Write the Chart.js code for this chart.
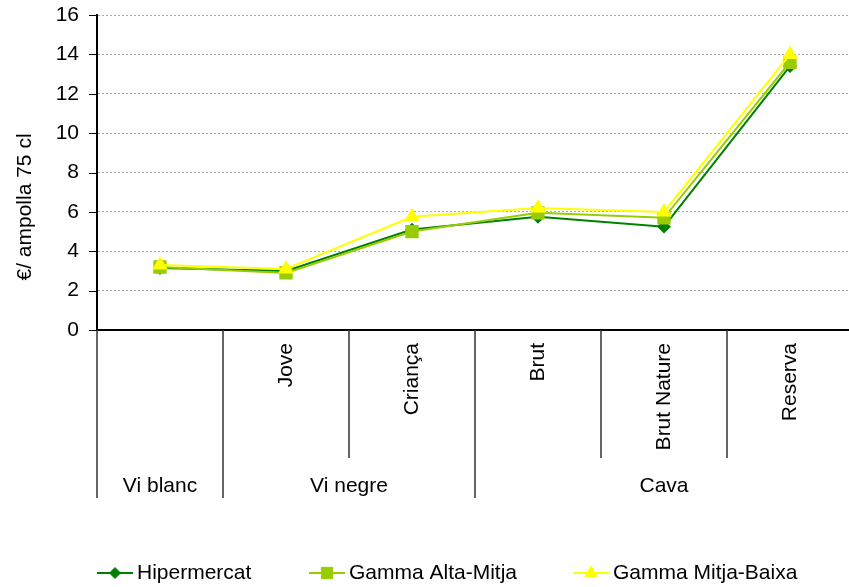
<!DOCTYPE html>
<html>
<head>
<meta charset="utf-8">
<script src="https://cdn.jsdelivr.net/npm/chart.js@4.4.0/dist/chart.umd.min.js"></script>
<style>
  html, body { margin: 0; padding: 0; background: #fff; overflow: hidden; }
  canvas { display: block; }
</style>
</head>
<body>
<canvas id="myChart" width="853" height="587"></canvas>
<script>
// dades llegides del gràfic
const categories = ["", "Jove", "Criança", "Brut", "Brut Nature", "Reserva"];
const groups = ["Vi blanc", "Vi negre", "Cava"];
const groupSpans = [[0, 0], [1, 2], [3, 5]];
const hipermercat = [3.15, 3.0, 5.1, 5.75, 5.25, 13.4];
const gammaAltaMitja = [3.2, 2.9, 5.0, 5.95, 5.7, 13.6];
const gammaMitjaBaixa = [3.3, 3.1, 5.75, 6.2, 6.0, 14.0];
const yTicks = [0, 2, 4, 6, 8, 10, 12, 14, 16];
const yTitle = "€/ ampolla 75 cl";

const family = "'Liberation Sans', Arial, sans-serif";
const font = "21px " + family;
Chart.defaults.font.family = family;
Chart.defaults.color = "#000";

// eix de categories en dos nivells, títol i llegenda
const axisPlugin = {
  id: "multiAxis",
  afterDraw(chart) {
    const ctx = chart.ctx;
    const x = chart.scales.x;
    const y = chart.scales.y;
    const base = chart.chartArea.bottom;
    const band = x.getPixelForValue(1) - x.getPixelForValue(0);
    ctx.save();

    ctx.strokeStyle = "#000";
    ctx.lineWidth = 1;
    yTicks.forEach(v => {
      const py = Math.round(y.getPixelForValue(v)) + 0.5;
      ctx.beginPath();
      ctx.moveTo(y.right - 8, py);
      ctx.lineTo(y.right, py);
      ctx.stroke();
    });

    const groupStarts = groupSpans.map(g => g[0]);
    ctx.strokeStyle = "#333";
    ctx.lineWidth = 1.5;
    for (let i = 0; i <= categories.length; i++) {
      const px = x.getPixelForValue(0) - band / 2 + i * band;
      const long = i === categories.length || groupStarts.includes(i);
      ctx.beginPath();
      ctx.moveTo(px, base);
      ctx.lineTo(px, long ? base + 168 : base + 128);
      ctx.stroke();
    }

    ctx.fillStyle = "#000";
    ctx.font = font;
    categories.forEach((c, i) => {
      if (!c) return;
      ctx.save();
      ctx.translate(x.getPixelForValue(i), base + 13);
      ctx.rotate(-Math.PI / 2);
      ctx.textAlign = "right";
      ctx.textBaseline = "middle";
      ctx.fillText(c, 0, 0);
      ctx.restore();
    });

    ctx.textAlign = "center";
    ctx.textBaseline = "middle";
    groups.forEach((g, k) => {
      const [a, b] = groupSpans[k];
      const cx = (x.getPixelForValue(a) + x.getPixelForValue(b)) / 2;
      ctx.fillText(g, cx, base + 156);
    });

    ctx.save();
    ctx.translate(25, 207);
    ctx.rotate(-Math.PI / 2);
    ctx.fillText(yTitle, 0, 0);
    ctx.restore();

    // llegenda
    const starts = [97, 309, 573];
    const ly = 573;
    chart.data.datasets.forEach((ds, i) => {
      const sx = starts[i];
      ctx.strokeStyle = ds.borderColor;
      ctx.fillStyle = ds.backgroundColor;
      ctx.lineWidth = 2;
      ctx.beginPath();
      ctx.moveTo(sx, ly);
      ctx.lineTo(sx + 36, ly);
      ctx.stroke();
      ctx.lineWidth = 1;
      Chart.helpers.drawPoint(ctx, {
        pointStyle: ds.pointStyle, radius: ds.pointRadius, borderWidth: 1, rotation: 0
      }, sx + 18, ly);
      ctx.fillStyle = "#000";
      ctx.textAlign = "left";
      ctx.fillText(ds.label, sx + 40, ly);
    });

    ctx.restore();
  }
};

const ctx = document.getElementById("myChart").getContext("2d");
const myChart = new Chart(ctx, {
  type: "line",
  data: {
    labels: categories,
    datasets: [
      {
        label: "Hipermercat", data: hipermercat,
        borderColor: "#008000", backgroundColor: "#008000",
        pointStyle: "rectRot", pointRadius: 5.5, borderWidth: 2, order: 3
      },
      {
        label: "Gamma Alta-Mitja", data: gammaAltaMitja,
        borderColor: "#99CC00", backgroundColor: "#99CC00",
        pointStyle: "rect", pointRadius: 8, borderWidth: 2, order: 2
      },
      {
        label: "Gamma Mitja-Baixa", data: gammaMitjaBaixa,
        borderColor: "#FFFF00", backgroundColor: "#FFFF00",
        pointStyle: "triangle", pointRadius: 7, borderWidth: 2, order: 1
      }
    ]
  },
  options: {
    responsive: false,
    animation: false,
    devicePixelRatio: 1,
    layout: { padding: { top: 15, right: 0, bottom: 0, left: 0 }, autoPadding: false },
    elements: { line: { tension: 0 }, point: { borderWidth: 1 } },
    plugins: { legend: { display: false }, tooltip: { enabled: false } },
    scales: {
      x: {
        offset: true,
        ticks: { display: false },
        grid: { display: false },
        border: { display: true, color: "#000", width: 2 },
        afterFit(scale) { scale.height = 257; }
      },
      y: {
        min: 0,
        max: 16,
        ticks: { stepSize: 2, padding: 2, color: "#000", font: { size: 21 } },
        grid: { color: "#a6a6a6", lineWidth: 1, drawTicks: true, tickLength: 16, tickColor: "rgba(0,0,0,0)" },
        border: { display: true, color: "#000", width: 2, dash: [2, 2] },
        afterFit(scale) { scale.width = 97; }
      }
    }
  },
  plugins: [axisPlugin]
});
</script>
</body>
</html>
